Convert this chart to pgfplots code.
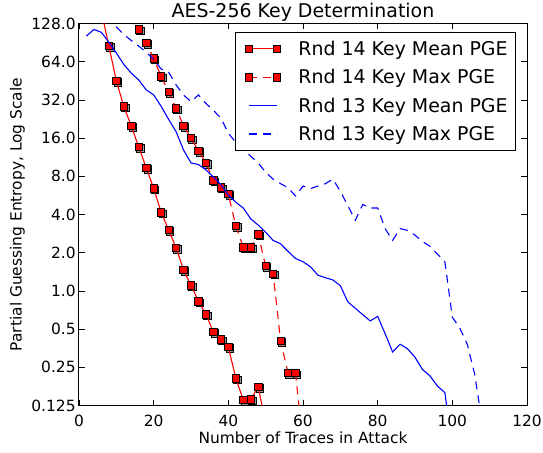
\documentclass[border=0pt]{standalone}
\usepackage{fontspec}
\setmainfont{DejaVu Sans}
\usepackage{pgfplots}
\pgfplotsset{compat=1.18}
\definecolor{mred}{RGB}{255,0,0}
\definecolor{mblue}{RGB}{0,0,255}
\pgfplotsset{
  marklegend/.style={legend image code/.code={%
    \path (-8bp,0bp) (32bp,0bp);
    \draw[##1, mark=none, draw=mred, line width=1.1bp] (0bp,0bp) -- (28bp,0bp);
    \draw[##1, only marks] plot coordinates {(0bp,0bp) (28bp,0bp)};}},
  linelegend/.style={legend image code/.code={%
    \path (-8bp,0bp) (32bp,0bp);
    \draw[##1, draw=mblue, line width=1.1bp] (0bp,0bp) -- (28bp,0bp);}},
}
\begin{document}
\begin{tikzpicture}
\begin{axis}[
  at={(0,0)}, anchor=south west,
  scale only axis, width=448bp, height=382bp,
  xmin=0, xmax=120, ymin=0.125, ymax=128,
  ymode=log, log basis y=2,
  xtick={0,20,...,120},
  ytick={0.125,0.25,0.5,1,2,4,8,16,32,64,128},
  yticklabels={0.125,0.25,0.5,1.0,2.0,4.0,8.0,16.0,32.0,64.0,128.0},
  minor ytick={}, minor xtick={},
  tick align=inside, major tick length=6bp,
  tick style={black, line width=0.8bp},
  ticklabel style={font=\fontsize{15.5}{18}\selectfont},
  yticklabel style={inner xsep=1bp, inner ysep=0bp, xshift=-2.2bp},
  xticklabel style={inner xsep=0bp, inner ysep=0bp, yshift=-9bp},
  /pgf/number format/assume math mode=true,
  axis line style={line width=1bp},
  title={AES-256 Key Determination},
  title style={font=\fontsize{19}{22}\selectfont, yshift=-7.5bp},
  xlabel={Number of Traces in Attack},
  ylabel={Partial Guessing Entropy, Log Scale},
  label style={font=\fontsize{15.5}{18}\selectfont},
  xlabel style={yshift=-2bp},
  ylabel style={yshift=2bp},
  clip marker paths=true,
  legend cell align=left,
  legend style={at={(1,1)}, anchor=north east, xshift=-11bp, yshift=-9bp,
     font=\fontsize{19}{22}\selectfont, draw=black, line width=0.8bp,
     row sep=10.5bp, inner xsep=5bp, inner ysep=7bp,
     nodes={inner xsep=3bp, inner ysep=1bp},
     /tikz/every odd column/.append style={column sep=14bp}},
]
% shadows
\addplot[forget plot, only marks, mark=square*, mark size=3.7bp,
  mark options={draw=none, fill=black!40, xshift=1.3bp, yshift=-1.3bp}] table {
x y
8 85
10 45.3
12 28.4
14 20.0
16 13.6
18 9.35
20 6.43
22 4.17
24 3.02
26 2.19
28 1.46
30 1.11
32 0.83
34 0.654
36 0.474
38 0.415
40 0.361
42 0.205
44 0.138
46 0.14
48 0.175
};
\addplot[forget plot, only marks, mark=square*, mark size=3.7bp,
  mark options={draw=none, fill=black!40, xshift=1.3bp, yshift=-1.3bp}] table {
x y
16 115
18 90
20 68
22 48.9
24 37
26 27.5
28 20
30 16
32 12.7
34 10.2
36 7.46
38 6.54
40 5.8
42 3.25
44 2.2
46 2.21
48 2.79
50 1.57
52 1.37
54 0.403
56 0.225
58 0.225
};
% Rnd 14 mean
\addplot[mred, line width=1.1bp, mark=square*, mark size=3.7bp,
  mark options={solid, fill=mred, draw=black, line width=0.7bp}, marklegend] table {
x y
6 160
8 85
10 45.3
12 28.4
14 20.0
16 13.6
18 9.35
20 6.43
22 4.17
24 3.02
26 2.19
28 1.46
30 1.11
32 0.83
34 0.654
36 0.474
38 0.415
40 0.361
42 0.205
44 0.138
46 0.14
48 0.175
50 0.09
};
\addlegendentry{Rnd 14 Key Mean PGE}
% Rnd 14 max
\addplot[mred, line width=1.1bp, dash pattern=on 8bp off 6bp, mark=square*, mark size=3.7bp,
  mark options={solid, fill=mred, draw=black, line width=0.7bp}, marklegend] table {
x y
14 150
16 115
18 90
20 68
22 48.9
24 37
26 27.5
28 20
30 16
32 12.7
34 10.2
36 7.46
38 6.54
40 5.8
42 3.25
44 2.2
46 2.21
48 2.79
50 1.57
52 1.37
54 0.403
56 0.225
58 0.225
60 0.0625
};
\addlegendentry{Rnd 14 Key Max PGE}
% Rnd 13 mean
\addplot[mblue, line width=1.1bp, no marks, linelegend] table {
x y
2 102
4 115
6 109
8 91
10 75
12 61
14 52
16 46
18 38.4
20 35
22 28.5
24 22.5
26 18
28 12.9
30 10.2
32 9.9
34 9.0
36 7.9
38 6.9
40 5.7
42 5.0
44 4.5
46 3.7
48 3.3
50 2.9
52 2.5
54 2.35
56 2.05
58 1.80
60 1.7
62 1.55
64 1.33
66 1.27
68 1.22
70 1.10
72 0.82
74 0.73
76 0.65
78 0.58
80 0.63
82 0.46
84 0.33
86 0.38
88 0.35
90 0.30
92 0.24
94 0.214
96 0.178
98 0.158
100 0.06
};
\addlegendentry{Rnd 13 Key Mean PGE}
% Rnd 13 max
\addplot[mblue, line width=1.1bp, no marks, dash pattern=on 8bp off 6bp, linelegend] table {
x y
8 150
10 120
12 105
14 94
16 85
18 76
20 67
22 56
24 53
26 42
28 35
30 31
32 35
34 30
36 26.5
38 23
40 17.5
42 14.8
44 13
46 11.5
48 10.2
50 8.6
52 7.6
54 7.0
56 6.5
58 5.6
60 6.7
62 6.4
64 6.7
66 7.0
68 7.6
70 6.1
72 4.7
74 3.6
76 4.8
78 4.5
80 4.5
82 3.1
84 2.5
86 3.1
88 3.0
90 2.75
92 2.45
94 2.25
96 1.95
98 1.70
100 0.62
102 0.51
104 0.38
106 0.22
108 0.09
};
\addlegendentry{Rnd 13 Key Max PGE}
\end{axis}
\pgfresetboundingbox
\path[use as bounding box] (-79bp,-47.5bp) rectangle (464bp,405.5bp);
\end{tikzpicture}
\end{document}
